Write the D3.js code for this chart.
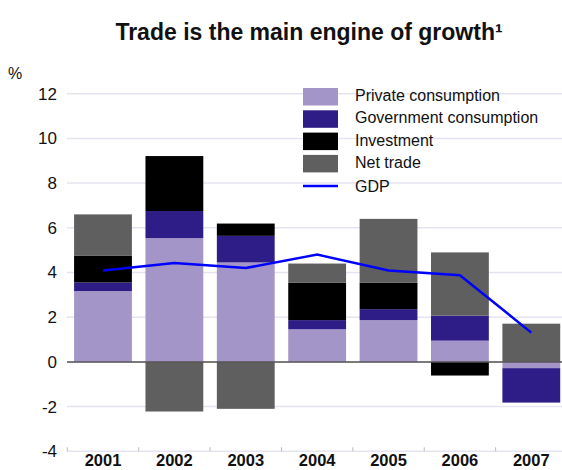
<!DOCTYPE html>
<html><head><meta charset="utf-8">
<script src="https://cdn.jsdelivr.net/npm/d3@7"></script>
<style>body{margin:0;background:#fff;} text{font-family:"Liberation Sans", Arial, Helvetica, sans-serif;}</style>
</head><body>
<svg id="c" width="562" height="470"></svg>
<script>
const years = ["2001","2002","2003","2004","2005","2006","2007"];
const privateCons = [3.17, 5.54, 4.45, 1.46, 1.87, 0.95, -0.28];
const govCons     = [0.38, 1.21, 1.19, 0.41, 0.49, 1.12, -1.54];
const investment  = [1.21, 2.46, 0.55, 1.68, 1.19, -0.61, 0.0];
const netTrade    = [1.84, -2.22, -2.10, 0.85, 2.85, 2.83, 1.71];
const gdp         = [4.09, 4.42, 4.20, 4.80, 4.09, 3.88, 1.31];
const yTicks = [-4,-2,0,2,4,6,8,10,12];
const seriesNames = ["Private consumption","Government consumption","Investment","Net trade"];
const seriesColors = ["#a395c7","#2e1d87","#000000","#5f5f5f"];

const rows = years.map((y,i)=>({year:y, "Private consumption":privateCons[i], "Government consumption":govCons[i], "Investment":investment[i], "Net trade":netTrade[i]}));

const svg = d3.select("#c");
const x = d3.scaleBand().domain(years).range([67.3, 567]).paddingInner(0.19).paddingOuter(0.095);
const y = d3.scaleLinear().domain([-4,12]).range([451.3, 93.7]);

// gridlines
svg.append("g").selectAll("line").data(yTicks).join("line")
  .attr("x1",67).attr("x2",562).attr("y1",d=>y(d)).attr("y2",d=>y(d))
  .attr("stroke","#e6e3f1").attr("stroke-width",1.5);

// y labels
svg.append("g").selectAll("text").data(yTicks).join("text")
  .attr("x",57).attr("y",d=>y(d)).attr("dy","0.35em").attr("text-anchor","end")
  .attr("font-size",17).attr("fill","#111").text(d=>d);
svg.append("text").attr("x",8).attr("y",79).attr("font-size",16).attr("fill","#111").text("%");

// bottom ticks
const step = x.step();
const tickXs = years.map(d=>x(d)+x.bandwidth()/2 - step/2);
svg.append("g").selectAll("line").data(tickXs).join("line")
  .attr("x1",d=>d).attr("x2",d=>d).attr("y1",y(-4)).attr("y2",y(-4)-4)
  .attr("stroke","#bbb").attr("stroke-width",1);

// stacked bars
const stack = d3.stack().keys(seriesNames).offset(d3.stackOffsetDiverging);
const stacked = stack(rows);
svg.append("g").selectAll("g").data(stacked).join("g")
  .attr("fill",(d,i)=>seriesColors[i])
  .selectAll("rect").data(d=>d).join("rect")
  .attr("x",d=>x(d.data.year)).attr("width",x.bandwidth())
  .attr("y",d=>y(Math.max(d[0],d[1]))).attr("height",d=>Math.abs(y(d[0])-y(d[1])));

// zero line
svg.append("line").attr("x1",67).attr("x2",562).attr("y1",y(0)).attr("y2",y(0))
  .attr("stroke","#555").attr("stroke-width",1.5);

// GDP line
const line = d3.line().x((d,i)=>x(years[i])+x.bandwidth()/2).y(d=>y(d));
svg.append("path").datum(gdp).attr("d",line).attr("fill","none")
  .attr("stroke","#0000ff").attr("stroke-width",2.5);

// x labels
svg.append("g").selectAll("text").data(years).join("text")
  .attr("x",d=>x(d)+x.bandwidth()/2).attr("y",466).attr("text-anchor","middle")
  .attr("font-size",16.5).attr("font-weight","bold").attr("fill","#111").text(d=>d);

// title
svg.append("text").attr("x",309).attr("y",40).attr("text-anchor","middle")
  .attr("font-size",23).attr("font-weight","bold").attr("fill","#111")
  .text("Trade is the main engine of growth\u00b9");

// legend
const lg = svg.append("g");
seriesNames.forEach((n,i)=>{
  lg.append("rect").attr("x",303).attr("y",88+i*22.3).attr("width",35).attr("height",17.5).attr("fill",seriesColors[i]);
  lg.append("text").attr("x",355).attr("y",101+i*22.3).attr("font-size",16).attr("fill","#111").text(n);
});
lg.append("line").attr("x1",303).attr("x2",338).attr("y1",186).attr("y2",186).attr("stroke","#0000ff").attr("stroke-width",2.5);
lg.append("text").attr("x",355).attr("y",191.5).attr("font-size",16).attr("fill","#111").text("GDP");
</script>
</body></html>
